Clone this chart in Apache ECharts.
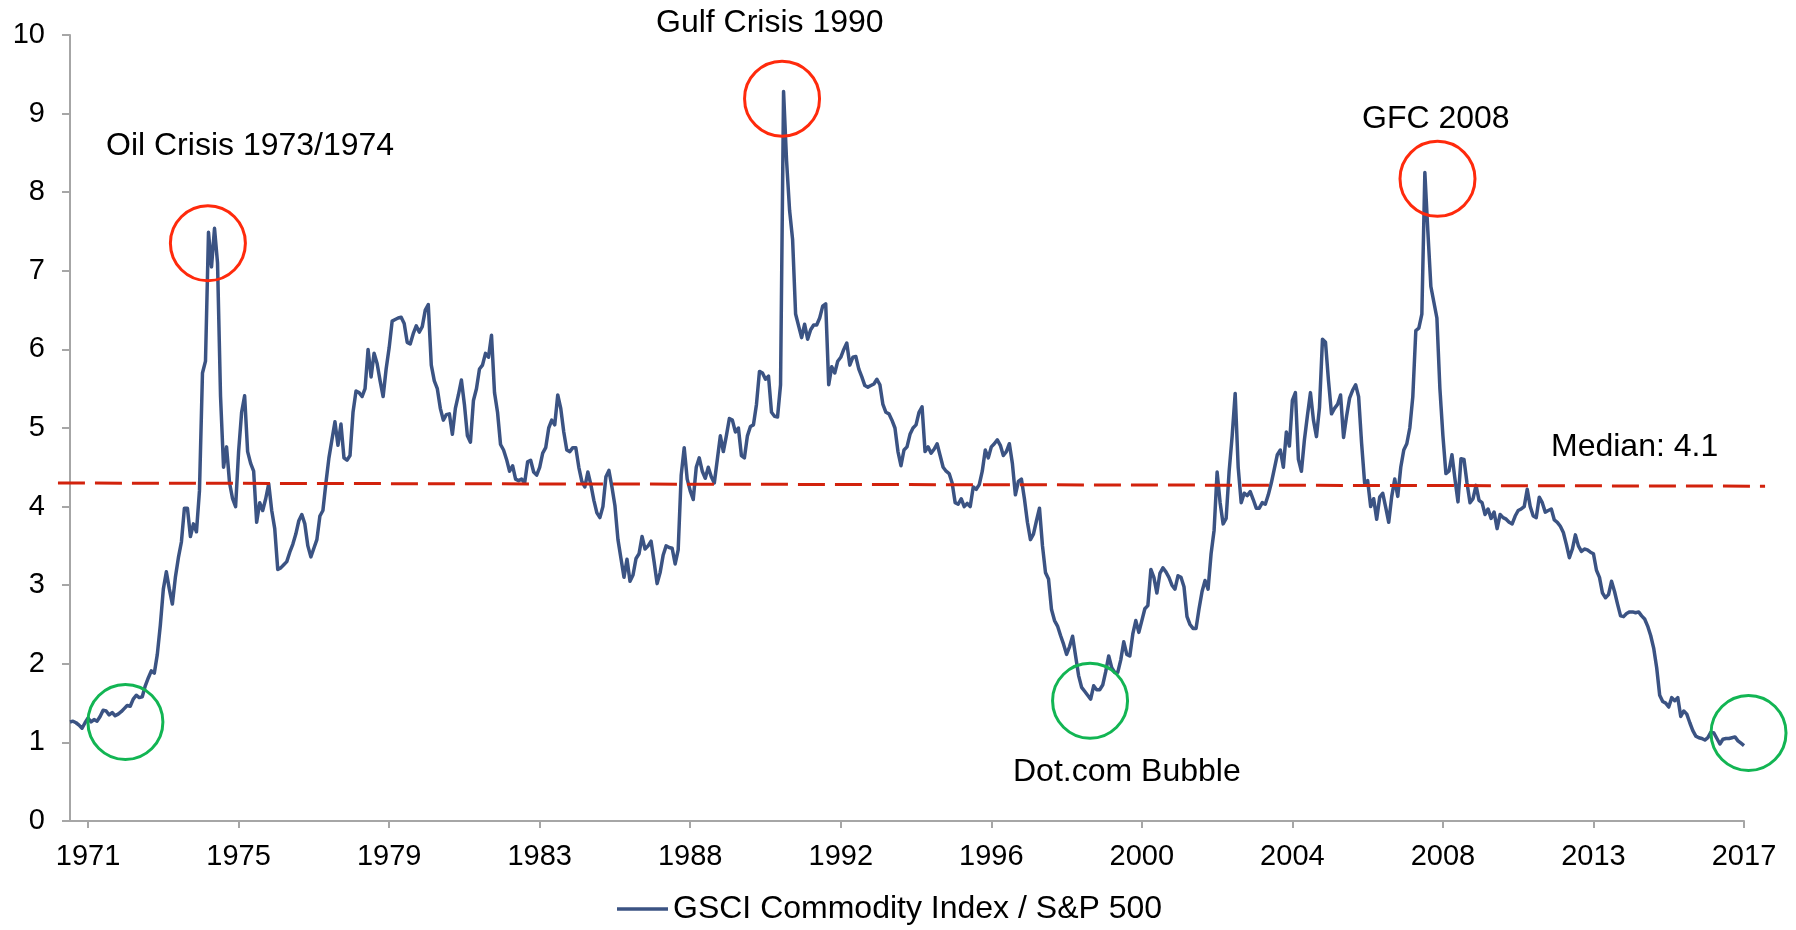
<!DOCTYPE html>
<html>
<head>
<meta charset="utf-8">
<title>GSCI Commodity Index / S&amp;P 500</title>
<script src="https://cdn.jsdelivr.net/npm/echarts@6/dist/echarts.min.js"></script>
<style>
html, body { margin: 0; padding: 0; background: #fff; }
#chart { width: 1796px; height: 930px; }
</style>
</head>
<body>
<div id="chart"></div>
<script>
// GSCI Commodity Index / S&P 500 ratio, monthly from Dec 1970
var ratio1970s = [
    1.26, 1.27, 1.25, 1.22, 1.18, 1.25, 1.31, 1.26, 1.29, 1.27,
    1.33, 1.41, 1.40, 1.35, 1.38, 1.34, 1.36, 1.39, 1.43, 1.47,
    1.46, 1.55, 1.60, 1.57, 1.58, 1.72, 1.82, 1.91, 1.88, 2.12,
    2.49, 2.95, 3.17, 2.95, 2.76, 3.10, 3.35, 3.55, 3.98, 3.98,
    3.62, 3.78, 3.68, 4.20, 5.70, 5.85, 7.49, 7.05, 7.54, 7.10,
    5.40, 4.50, 4.76, 4.30, 4.10, 4.00, 4.70, 5.20, 5.41, 4.70,
    4.55, 4.45, 3.80, 4.05, 3.95, 4.10, 4.29, 3.95, 3.72, 3.20,
    3.22, 3.26, 3.30, 3.42, 3.52, 3.65, 3.82, 3.90, 3.78, 3.50,
    3.36, 3.47, 3.58, 3.88, 3.95, 4.30, 4.62, 4.85, 5.08, 4.78,
    5.05, 4.62, 4.59, 4.65, 5.20, 5.47, 5.45, 5.40, 5.50, 6.00,
    5.65, 5.95, 5.82, 5.60, 5.40, 5.75, 6.02, 6.36, 6.38
];
var ratio1980s = [
    6.40, 6.41, 6.33, 6.09, 6.07, 6.20, 6.30, 6.22, 6.29, 6.50,
    6.57, 5.80, 5.60, 5.50, 5.25, 5.10, 5.17, 5.18, 4.92, 5.25,
    5.42, 5.61, 5.30, 4.90, 4.82, 5.35, 5.50, 5.75, 5.80, 5.95,
    5.90, 6.18, 5.45, 5.20, 4.79, 4.72, 4.60, 4.45, 4.52, 4.35,
    4.33, 4.35, 4.30, 4.57, 4.59, 4.44, 4.40, 4.50, 4.68, 4.75,
    5.00, 5.10, 5.04, 5.42, 5.25, 4.95, 4.72, 4.70, 4.75, 4.75,
    4.50, 4.32, 4.25, 4.44, 4.28, 4.08, 3.92, 3.86, 4.00, 4.38,
    4.46, 4.25, 4.01, 3.58, 3.34, 3.10, 3.33, 3.05, 3.13, 3.34,
    3.40, 3.62, 3.46, 3.50, 3.56, 3.30, 3.02, 3.16, 3.38, 3.50,
    3.48, 3.47, 3.27, 3.45, 4.40, 4.75, 4.35, 4.20, 4.09, 4.50,
    4.62, 4.45, 4.36, 4.50, 4.38, 4.30, 4.60, 4.90, 4.70, 4.90,
    5.12, 5.10, 4.95, 5.00, 4.65, 4.62, 4.90, 5.02, 5.04, 5.30
];
var ratio1990s = [
    5.72, 5.70, 5.62, 5.66, 5.20, 5.15, 5.14, 5.55, 9.28, 8.40,
    7.77, 7.40, 6.45, 6.30, 6.15, 6.32, 6.13, 6.25, 6.31, 6.31,
    6.40, 6.55, 6.58, 5.55, 5.78, 5.70, 5.85, 5.90, 6.00, 6.08,
    5.80, 5.90, 5.91, 5.75, 5.65, 5.54, 5.52, 5.54, 5.56, 5.62,
    5.55, 5.30, 5.20, 5.18, 5.10, 5.00, 4.70, 4.52, 4.72, 4.76,
    4.92, 5.00, 5.04, 5.20, 5.27, 4.70, 4.76, 4.68, 4.73, 4.80,
    4.65, 4.50, 4.45, 4.42, 4.30, 4.05, 4.03, 4.10, 4.00, 4.04,
    4.00, 4.25, 4.22, 4.28, 4.45, 4.72, 4.62, 4.76, 4.80, 4.85,
    4.78, 4.65, 4.70, 4.80, 4.55, 4.15, 4.32, 4.35, 4.10, 3.80,
    3.58, 3.65, 3.82, 3.98, 3.50, 3.16, 3.08, 2.69, 2.55, 2.48,
    2.36, 2.25, 2.12, 2.22, 2.35, 2.10, 1.85, 1.70, 1.65, 1.60,
    1.55, 1.72, 1.67, 1.67, 1.73, 1.90, 2.10, 1.95, 1.89, 1.89
];
var ratio2000s = [
    2.05, 2.28, 2.12, 2.10, 2.38, 2.55, 2.40, 2.55, 2.70, 2.74,
    3.20, 3.10, 2.90, 3.15, 3.22, 3.17, 3.10, 3.00, 2.95, 3.12,
    3.10, 2.98, 2.60, 2.50, 2.45, 2.45, 2.70, 2.92, 3.06, 2.95,
    3.40, 3.70, 4.44, 4.05, 3.78, 3.85, 4.45, 4.90, 5.44, 4.50,
    4.05, 4.17, 4.14, 4.19, 4.09, 3.98, 3.98, 4.05, 4.03, 4.15,
    4.30, 4.48, 4.66, 4.72, 4.50, 4.95, 4.77, 5.35, 5.45, 4.60,
    4.45, 4.85, 5.16, 5.45, 5.10, 4.89, 5.26, 6.13, 6.09, 5.60,
    5.18, 5.25, 5.30, 5.42, 4.88, 5.15, 5.38, 5.48, 5.55, 5.40,
    4.80, 4.30, 4.33, 4.00, 4.10, 3.84, 4.12, 4.17, 3.99, 3.80,
    4.13, 4.35, 4.13, 4.50, 4.72, 4.80, 5.00, 5.40, 6.24, 6.27,
    6.45, 8.25, 7.50, 6.80, 6.60, 6.40, 5.50, 4.90, 4.42, 4.45,
    4.66, 4.35, 4.06, 4.61, 4.60, 4.30, 4.05, 4.10, 4.27, 4.08
];
var ratio2010s = [
    4.05, 3.90, 3.97, 3.85, 3.93, 3.72, 3.90, 3.86, 3.84, 3.80,
    3.78, 3.88, 3.95, 3.97, 4.00, 4.22, 4.00, 3.88, 3.86, 4.12,
    4.05, 3.93, 3.95, 3.97, 3.83, 3.80, 3.75, 3.67, 3.52, 3.35,
    3.46, 3.64, 3.50, 3.43, 3.46, 3.45, 3.42, 3.40, 3.19, 3.10,
    2.90, 2.84, 2.88, 3.05, 2.92, 2.76, 2.61, 2.60, 2.64, 2.66,
    2.66, 2.65, 2.66, 2.61, 2.57, 2.48, 2.36, 2.20, 1.95, 1.60,
    1.52, 1.50, 1.45, 1.57, 1.53, 1.57, 1.33, 1.40, 1.36, 1.25,
    1.15, 1.08, 1.06, 1.05, 1.03, 1.06, 1.13, 1.12, 1.05, 0.98,
    1.04, 1.05, 1.05, 1.06, 1.07, 1.02, 0.99, 0.96
];

var startYear = 1970, startMonth = 12;
// year labels shown every 50 months, starting at month 6
var yearLabels = ['1971', '1975', '1979', '1983', '1988', '1992', '1996', '2000', '2004', '2008', '2013', '2017'];
var labelStart = 6, labelStep = 50;

var seriesName = 'GSCI Commodity Index / S&P 500';
var medianText = 'Median: 4.1';
var medianLevel = [4.30, 4.26];   // drawn level at left / right end
var medianSpan = [-4, 563];       // in month index

// circled episodes [month index, value]
var redRings = [[45.8, 7.35], [236.5, 9.19], [454.2, 8.17]];
var greenRings = [[18.4, 1.26], [338.8, 1.53], [557.5, 1.12]];

var ratio = [].concat(ratio1970s, ratio1980s, ratio1990s, ratio2000s, ratio2010s);
var months = [];
for (var i = 0; i < ratio.length; i++) {
    var m = startMonth - 1 + i;
    var yy = startYear + Math.floor(m / 12);
    var mm = m % 12 + 1;
    months.push(yy + '-' + (mm < 10 ? '0' : '') + mm);
}

var FONT = '"Liberation Sans", Arial, Helvetica, sans-serif';
var isLabel = function (index) {
    return index >= labelStart && (index - labelStart) % labelStep === 0;
};

var myChart = echarts.init(document.getElementById('chart'));
var option = {
    animation: false,
    backgroundColor: '#fff',
    textStyle: { fontFamily: FONT },
    grid: {
        left: 70,
        right: 52,
        top: 35,
        bottom: 109,
        containLabel: false,
        outerBoundsMode: 'none'
    },
    legend: {
        data: [seriesName],
        left: 617,
        top: 893,
        padding: 0,
        icon: 'rect',
        itemWidth: 51,
        itemHeight: 3.5,
        textStyle: { fontFamily: FONT, fontSize: 32, color: '#000', lineHeight: 32 }
    },
    xAxis: {
        type: 'category',
        data: months,
        boundaryGap: false,
        axisLine: { lineStyle: { color: '#a6a6a6', width: 2 } },
        axisTick: { interval: isLabel, length: 7, lineStyle: { color: '#a6a6a6', width: 2 } },
        axisLabel: {
            interval: isLabel,
            margin: 21,
            fontFamily: FONT,
            fontSize: 29,
            color: '#000',
            formatter: function (value, index) {
                return yearLabels[(index - labelStart) / labelStep];
            }
        },
        splitLine: { show: false }
    },
    yAxis: {
        type: 'value',
        min: 0,
        max: 10,
        interval: 1,
        axisLine: { show: true, lineStyle: { color: '#a6a6a6', width: 2 } },
        axisTick: { show: true, length: 8, lineStyle: { color: '#a6a6a6', width: 2 } },
        axisLabel: { margin: 25, fontFamily: FONT, fontSize: 29, color: '#000' },
        splitLine: { show: false }
    },
    series: [{
        name: seriesName,
        type: 'line',
        data: ratio,
        showSymbol: false,
        symbol: 'none',
        lineStyle: { color: '#3b5383', width: 3.5, join: 'round' },
        itemStyle: { color: '#3b5383' }
    }]
};
myChart.setOption(option);

// annotations placed through the axes
var n = ratio.length - 1;
var p0 = myChart.convertToPixel({ xAxisIndex: 0, yAxisIndex: 0 }, [months[0], 0]);
var p1 = myChart.convertToPixel({ xAxisIndex: 0, yAxisIndex: 0 }, [months[n], 10]);
function toPx(idx, val) {
    return [p0[0] + (p1[0] - p0[0]) * idx / n, p0[1] + (p1[1] - p0[1]) * val / 10];
}

var graphics = [];
var a = toPx(medianSpan[0], medianLevel[0]);
var b = toPx(medianSpan[1], medianLevel[1]);
graphics.push({
    type: 'line', z: 50,
    shape: { x1: a[0], y1: a[1], x2: b[0], y2: b[1] },
    style: { stroke: '#d2220c', lineWidth: 3, lineDash: [27, 10] }
});
function ring(pt, color) {
    var c = toPx(pt[0], pt[1]);
    graphics.push({
        type: 'circle', z: 60,
        shape: { cx: c[0], cy: c[1], r: 37.5 },
        style: { fill: 'none', stroke: color, lineWidth: 3 }
    });
}
redRings.forEach(function (p) { ring(p, '#ff2a0c'); });
greenRings.forEach(function (p) { ring(p, '#12b553'); });

var callouts = [
    { text: 'Oil Crisis 1973/1974', x: 106, y: 146 },
    { text: 'Gulf Crisis 1990', x: 656, y: 23 },
    { text: 'GFC 2008', x: 1362, y: 119 },
    { text: medianText, x: 1551, y: 447 },
    { text: 'Dot.com Bubble', x: 1013, y: 772 }
];
callouts.forEach(function (t) {
    graphics.push({
        type: 'text', z: 70, x: t.x, y: t.y,
        style: {
            text: t.text, fill: '#000', fontSize: 32, fontFamily: FONT,
            textAlign: 'left', textVerticalAlign: 'middle', verticalAlign: 'middle'
        }
    });
});
myChart.setOption({ graphic: graphics });

window.onresize = function () {
    myChart.resize();
};
</script>
</body>
</html>
